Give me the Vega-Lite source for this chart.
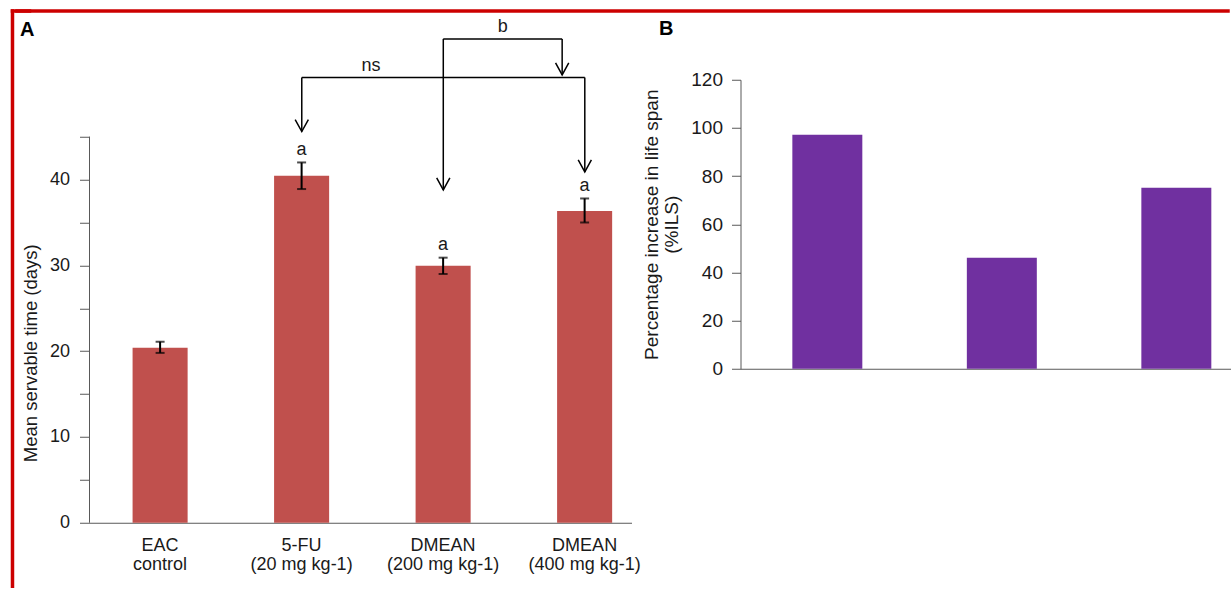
{
  "$schema": "https://vega.github.io/schema/vega-lite/v6.json",
  "background": "white",
  "padding": {"left": 9.5, "top": 7.75, "right": 0, "bottom": 0},
  "config": {
    "font": "Liberation Sans",
    "view": {"stroke": null},
    "axis": {
      "labelFont": "Liberation Sans", "titleFont": "Liberation Sans",
      "labelFontSize": 18, "titleFontSize": 18.5,
      "labelColor": "#1a1a1a", "titleColor": "#1a1a1a", "titleFontWeight": "normal",
      "domainColor": "#595959", "tickColor": "#595959", "grid": false
    },
    "title": {"font": "Liberation Sans", "fontSize": 20, "fontWeight": "bold", "anchor": "start", "color": "black"}
  },
  "datasets": {
    "survival": [
      {"group": "EAC|control", "mean": 20.4, "lo": 19.8, "hi": 21.1, "sig": "", "sigY": null},
      {"group": "5-FU|(20 mg kg-1)", "mean": 40.45, "lo": 38.9, "hi": 42.0, "sig": "a", "sigY": 43.5},
      {"group": "DMEAN|(200 mg kg-1)", "mean": 29.95, "lo": 29.0, "hi": 30.9, "sig": "a", "sigY": 32.4},
      {"group": "DMEAN|(400 mg kg-1)", "mean": 36.35, "lo": 35.0, "hi": 37.8, "sig": "a", "sigY": 39.2}
    ],
    "axisLine": [
      {"x": 0, "y": 0, "x2": 0, "y2": 45}
    ],
    "brackets": [
      {"x": 1.5, "y": 51.9, "x2": 3.5, "y2": 51.9},
      {"x": 1.5, "y": 51.9, "x2": 1.5, "y2": 45.6},
      {"x": 3.5, "y": 51.9, "x2": 3.5, "y2": 40.9},
      {"x": 2.5, "y": 56.4, "x2": 3.34, "y2": 56.4},
      {"x": 2.5, "y": 56.4, "x2": 2.5, "y2": 38.8},
      {"x": 3.34, "y": 56.4, "x2": 3.34, "y2": 52.2}
    ],
    "arrows": [
      {"x": 1.5, "y": 45.6},
      {"x": 3.5, "y": 40.9},
      {"x": 2.5, "y": 38.8},
      {"x": 3.34, "y": 52.2}
    ],
    "bracketLabels": [
      {"x": 1.99, "y": 53.2, "t": "ns"},
      {"x": 2.92, "y": 57.8, "t": "b"}
    ],
    "frameA": [
      {"x": -0.5442, "y": 59.654, "x2": -0.5442, "y2": -7.402},
      {"x": -0.5442, "y": 59.654, "x2": -0.424, "y2": 59.654}
    ],
    "frameB": [
      {"x": -1.47653, "y": 148.547, "x2": 0.9949, "y2": 148.547}
    ],
    "ils": [
      {"grp": "5-FU (20 mg kg-1)", "ils": 97.2},
      {"grp": "DMEAN (200 mg kg-1)", "ils": 46.1},
      {"grp": "DMEAN (400 mg kg-1)", "ils": 75.2}
    ]
  },
  "spacing": -626,
  "hconcat": [
    {
      "title": {"text": "A", "offset": -31.5, "dx": 10, "frame": "bounds"},
      "width": 542, "height": 443,
      "layer": [
        {
          "data": {"name": "survival"},
          "encoding": {
            "x": {
              "field": "group", "type": "nominal", "sort": null,
              "scale": {"paddingInner": 0.611, "paddingOuter": 0.2206, "align": 0.69},
              "axis": {"title": null, "ticks": false, "labelAngle": 0, "labelExpr": "split(datum.label, '|')", "labelPadding": 14, "labelLineHeight": 19, "labelBaseline": "top"}
            },
            "y": {
              "type": "quantitative",
              "scale": {"domain": [0, 51.64], "nice": false},
              "axis": {
                "title": "Mean servable time (days)",
                "domain": false,
                "values": [0, 5, 10, 15, 20, 25, 30, 35, 40, 45],
                "labelExpr": "datum.value % 10 === 0 ? datum.label : ''",
                "tickSize": 10, "labelPadding": 10, "titlePadding": 9, "titleY": 273
              }
            }
          },
          "layer": [
            {"mark": {"type": "bar", "color": "#C0504D"}, "encoding": {"y": {"field": "mean"}}},
            {"mark": {"type": "rule", "color": "black", "strokeWidth": 2}, "encoding": {"y": {"field": "lo"}, "y2": {"field": "hi"}}},
            {"mark": {"type": "tick", "color": "black", "size": 9, "thickness": 2, "orient": "horizontal"}, "encoding": {"y": {"field": "lo"}}},
            {"mark": {"type": "tick", "color": "black", "size": 9, "thickness": 2, "orient": "horizontal"}, "encoding": {"y": {"field": "hi"}}},
            {"mark": {"type": "text", "fontSize": 18, "baseline": "middle", "color": "#1a1a1a"}, "encoding": {"y": {"field": "sigY"}, "text": {"field": "sig"}}}
          ]
        },
        {
          "encoding": {
            "x": {"type": "quantitative", "scale": {"domain": [0, 3.83], "nice": false, "zero": false}, "axis": null},
            "y": {"type": "quantitative", "scale": {"domain": [0, 51.64], "nice": false}}
          },
          "layer": [
            {
              "data": {"name": "axisLine"},
              "mark": {"type": "rule", "color": "#595959", "strokeWidth": 1},
              "encoding": {"x": {"field": "x"}, "y": {"field": "y"}, "x2": {"field": "x2"}, "y2": {"field": "y2"}}
            },
            {
              "data": {"name": "brackets"},
              "mark": {"type": "rule", "color": "black", "strokeWidth": 1.5},
              "encoding": {"x": {"field": "x"}, "y": {"field": "y"}, "x2": {"field": "x2"}, "y2": {"field": "y2"}}
            },
            {
              "data": {"name": "arrows"},
              "mark": {"type": "point", "shape": "M-0.55,-1L0,0L0.55,-1", "filled": false, "stroke": "black", "strokeWidth": 1.5, "size": 576, "opacity": 1},
              "encoding": {"x": {"field": "x"}, "y": {"field": "y"}}
            },
            {
              "data": {"name": "bracketLabels"},
              "mark": {"type": "text", "fontSize": 18, "baseline": "middle", "color": "#1a1a1a"},
              "encoding": {"x": {"field": "x"}, "y": {"field": "y"}, "text": {"field": "t"}}
            },
            {
              "data": {"name": "frameA"},
              "mark": {"type": "rule", "color": "#CC0000", "strokeWidth": 3.5, "strokeCap": "square"},
              "encoding": {"x": {"field": "x"}, "y": {"field": "y"}, "x2": {"field": "x2"}, "y2": {"field": "y2"}}
            }
          ]
        }
      ],
      "resolve": {"scale": {"x": "independent"}}
    },
    {
      "title": {"text": "B", "offset": -30.5, "dx": -81.5, "frame": "group"},
      "width": 490, "height": 289,
      "encoding": {
        "y": {
          "type": "quantitative",
          "scale": {"domain": [0, 120], "nice": false},
          "axis": {
            "title": ["Percentage increase in life span", "(%ILS)"],
            "titleLineHeight": 20, "titleFontSize": 19, "labelFontSize": 19,
            "values": [0, 20, 40, 60, 80, 100, 120],
            "tickSize": 9, "labelPadding": 9, "titlePadding": 9
          }
        }
      },
      "layer": [
        {
          "data": {"name": "ils"},
          "mark": {"type": "bar", "color": "#7030A0"},
          "encoding": {
            "x": {
              "field": "grp", "type": "nominal", "sort": null,
              "scale": {"paddingInner": 0.599, "paddingOuter": 0.2035, "align": 0.73},
              "axis": {"title": null, "labels": false, "ticks": false}
            },
            "y": {"field": "ils"}
          }
        },
        {
          "data": {"name": "frameB"},
          "mark": {"type": "rule", "color": "#CC0000", "strokeWidth": 3.5, "strokeCap": "square"},
          "encoding": {
            "x": {"field": "x", "type": "quantitative", "scale": {"domain": [0, 1], "nice": false, "zero": false}, "axis": null},
            "x2": {"field": "x2"},
            "y": {"field": "y"},
            "y2": {"field": "y2"}
          }
        }
      ],
      "resolve": {"scale": {"x": "independent"}}
    }
  ]
}
